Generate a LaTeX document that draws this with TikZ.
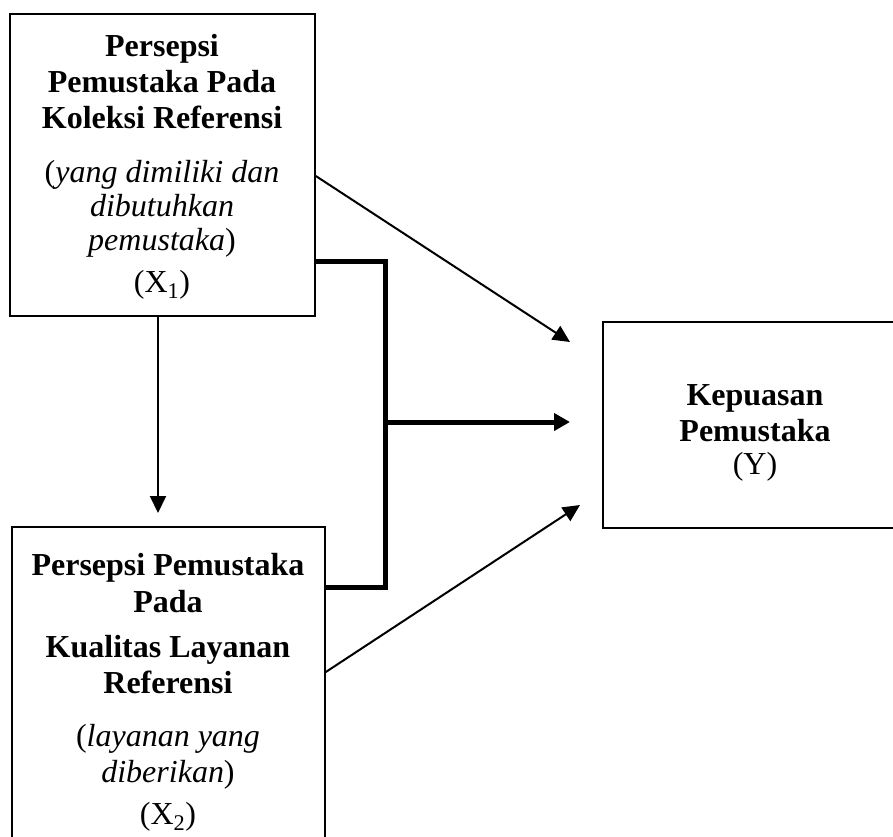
\documentclass[tikz,border=0pt]{standalone}
\usepackage{fontspec}
\setmainfont{Liberation Serif}
\usetikzlibrary{arrows.meta}
\begin{document}
\begin{tikzpicture}[x=1pt,y=-1pt,
  box/.style={draw,line width=1.6pt,inner sep=0pt},
  txt/.style={anchor=base,inner sep=0pt,font=\fontsize{32}{36}\selectfont},
  btxt/.style={anchor=base,inner sep=0pt,font=\fontsize{32}{36}\selectfont\bfseries},
  itxt/.style={anchor=base,inner sep=0pt,font=\fontsize{32}{36}\selectfont},
  arr/.style={line width=2pt,-{Triangle[length=17pt,width=16pt]}},
  thick arr/.style={line width=5pt,-{Triangle[length=16pt,width=17pt]}},
  bracket/.style={line width=5pt,line join=miter}]
\useasboundingbox (0,0) rectangle (893,836);
\clip (0,0) rectangle (893,836);
% boxes
\node[box,minimum width=305pt,minimum height=302pt] (x1) at (162.5,165) {};
\node[box,minimum width=313pt,minimum height=323pt] (x2) at (168.5,688.5) {};
\node[box,minimum width=304pt,minimum height=206pt] (y) at (755,425) {};
% X1 text
\node[btxt] (x1a) at (162,56) {Persepsi};
\node[btxt] (x1b) at (162,92) {Pemustaka Pada};
\node[btxt] (x1c) at (162,128) {Koleksi Referensi};
\node[itxt] (x1d) at (162,182) {(\textit{yang dimiliki dan}};
\node[itxt] (x1e) at (162,216) {\textit{dibutuhkan}};
\node[itxt] (x1f) at (162,250) {\textit{pemustaka})};
\node[txt] (x1g) at (162,292) {(X\textsubscript{1})};
% X2 text
\node[btxt] (x2a) at (168,575) {Persepsi Pemustaka};
\node[btxt] (x2b) at (168,612) {Pada};
\node[btxt] (x2c) at (168,657) {Kualitas Layanan};
\node[btxt] (x2d) at (168,693) {Referensi};
\node[itxt] (x2e) at (168,746) {(\textit{layanan yang}};
\node[itxt] (x2f) at (168,782) {\textit{diberikan})};
\node[txt] (x2g) at (168,824) {(X\textsubscript{2})};
% Y text
\node[btxt] (ya) at (755,405) {Kepuasan};
\node[btxt] (yb) at (755,441) {Pemustaka};
\node[txt] (yc) at (755,474) {(Y)};
% connector points
\coordinate (b1) at (385,261);
\coordinate (b2) at (385,587);
\coordinate (bm) at (385,422);
\coordinate (t1) at (570,342);
\coordinate (t2) at (570,422);
\coordinate (t3) at (580,505);
\coordinate (tv) at (158,513);
% connectors
\draw[arr] (x1.east |- 0,176) -- (t1);
\draw[arr] (x2.east |- 0,672) -- (t3);
\draw[bracket] (x1.east |- b1) -- (b1) -- (b2) -- (x2.east |- b2);
\draw[thick arr] (bm) -- (t2);
\draw[arr] (x1.south -| tv) -- (tv);
\end{tikzpicture}
\end{document}
